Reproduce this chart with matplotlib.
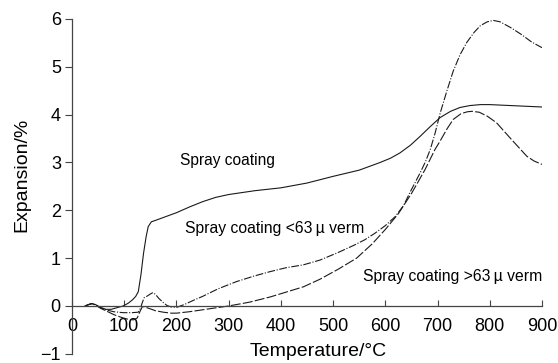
import matplotlib
matplotlib.use("Agg")
import matplotlib.pyplot as plt
from matplotlib import rcParams

# font setup
config = {
    "font.family": ["Liberation Sans", "DejaVu Sans"],
    "font.size": 12,
    "axes.unicode_minus": True,
}
rcParams.update(config)

# data (temperature in degC, expansion in %)
solid_t = [25, 32, 38, 45, 55, 65, 75, 88, 98, 108, 116, 122, 127, 132, 137, 142, 146, 152,
           160, 170, 185, 200, 225, 250, 275, 300, 350, 400, 450, 500, 550, 590, 610, 628,
           648, 667, 686, 705, 725, 743, 762, 782, 800, 820, 860, 900]
solid_v = [0, 0.03, 0.05, 0.03, -0.03, -0.07, -0.07, -0.03, 0.0, 0.06, 0.13, 0.2, 0.3, 0.65,
           1.1, 1.45, 1.66, 1.76, 1.79, 1.83, 1.89, 1.95, 2.07, 2.18, 2.27, 2.33, 2.41, 2.47,
           2.57, 2.71, 2.84, 3.0, 3.09, 3.2, 3.36, 3.55, 3.75, 3.94, 4.07, 4.15, 4.19, 4.21,
           4.21, 4.2, 4.18, 4.16]

fine_t = [25, 32, 38, 45, 55, 65, 80, 98, 115, 127, 131, 134, 138, 143, 150, 155, 160, 167,
          175, 182, 190, 200, 215, 235, 250, 280, 315, 350, 380, 410, 443, 475, 510, 540, 560,
          580, 600, 619, 635, 647, 657, 667, 677, 686, 695, 705, 718, 730, 743, 756, 770, 782,
          795, 807, 820, 840, 860, 880, 900]
fine_v = [0, 0.03, 0.05, 0.02, -0.04, -0.08, -0.12, -0.14, -0.14, -0.13, -0.05, 0.05, 0.17,
          0.2, 0.25, 0.28, 0.24, 0.15, 0.07, 0.01, -0.02, -0.03, 0.03, 0.13, 0.2, 0.36, 0.51,
          0.63, 0.72, 0.8, 0.86, 0.96, 1.12, 1.27, 1.38, 1.52, 1.68, 1.87, 2.1, 2.37, 2.58,
          2.79, 3.02, 3.27, 3.6, 4.03, 4.5, 4.91, 5.25, 5.51, 5.72, 5.86, 5.94, 5.97, 5.94,
          5.82, 5.68, 5.52, 5.4]

coarse_t = [25, 32, 38, 45, 55, 65, 80, 95, 108, 118, 125, 130, 135, 142, 150, 160, 175, 190,
            200, 225, 250, 275, 300, 340, 380, 410, 443, 475, 510, 545, 575, 600, 625, 650,
            676, 695, 705, 718, 730, 745, 757, 766, 780, 795, 813, 840, 871, 885, 900]
coarse_v = [0, 0.03, 0.05, 0.02, -0.05, -0.1, -0.18, -0.24, -0.28, -0.29, -0.25, -0.12, -0.01,
            -0.03, -0.06, -0.1, -0.13, -0.15, -0.15, -0.12, -0.08, -0.04, 0.0, 0.08, 0.19,
            0.29, 0.4, 0.56, 0.77, 1.0, 1.3, 1.6, 1.93, 2.35, 2.85, 3.27, 3.45, 3.7, 3.9, 4.02,
            4.06, 4.07, 4.05, 3.97, 3.83, 3.5, 3.13, 3.03, 2.96]

xticks = [0, 100, 200, 300, 400, 500, 600, 700, 800, 900]
yticks = [-1, 0, 1, 2, 3, 4, 5, 6]

# figure and axes
fig = plt.figure(figsize=(5.58, 3.63), dpi=100)
ax = fig.add_axes([0.129, 0.0253, 0.8423, 0.9224])

line_col = "#1a1a1a"
ax.plot(solid_t, solid_v, color=line_col, lw=0.8, linestyle="-")
ax.plot(fine_t, fine_v, color=line_col, lw=0.8, linestyle=(0, (7, 1.5, 1, 1.5)))
ax.plot(coarse_t, coarse_v, color=line_col, lw=0.8, linestyle=(0, (9, 2)))

# curve labels
ax.text(207, 2.95, "Spray coating", fontsize=11.2, ha="left", va="baseline")
ax.text(216, 1.53, "Spray coating <63\u2009\u00b5 verm", fontsize=11.3, ha="left", va="baseline")
ax.text(557, 0.52, "Spray coating >63\u2009\u00b5 verm", fontsize=11.3, ha="left", va="baseline")

# axes styling: x axis through y=0, y axis from -1 to 6
ax.set_xlim(0, 900)
ax.set_ylim(-1, 6)
ax.spines["top"].set_visible(False)
ax.spines["right"].set_visible(False)
ax.spines["bottom"].set_position(("data", 0))
for s in ("left", "bottom"):
    ax.spines[s].set_color("#444444")
    ax.spines[s].set_linewidth(0.9)

ax.set_xticks(xticks)
ax.set_yticks(yticks)
ax.tick_params(axis="x", direction="in", length=4, width=0.8, color="#444444",
               labelsize=13, pad=9)
ax.tick_params(axis="y", direction="out", length=5, width=0.8, color="#444444",
               labelsize=13, pad=3)

ax.set_xlabel("Temperature/\u00b0C", fontsize=14)
ax.xaxis.set_label_coords(0.523, 0.032)
ax.set_ylabel("Expansion/%", fontsize=14)
ax.yaxis.set_label_coords(-0.088, 0.534)

fig.savefig("out.png", dpi=100)
